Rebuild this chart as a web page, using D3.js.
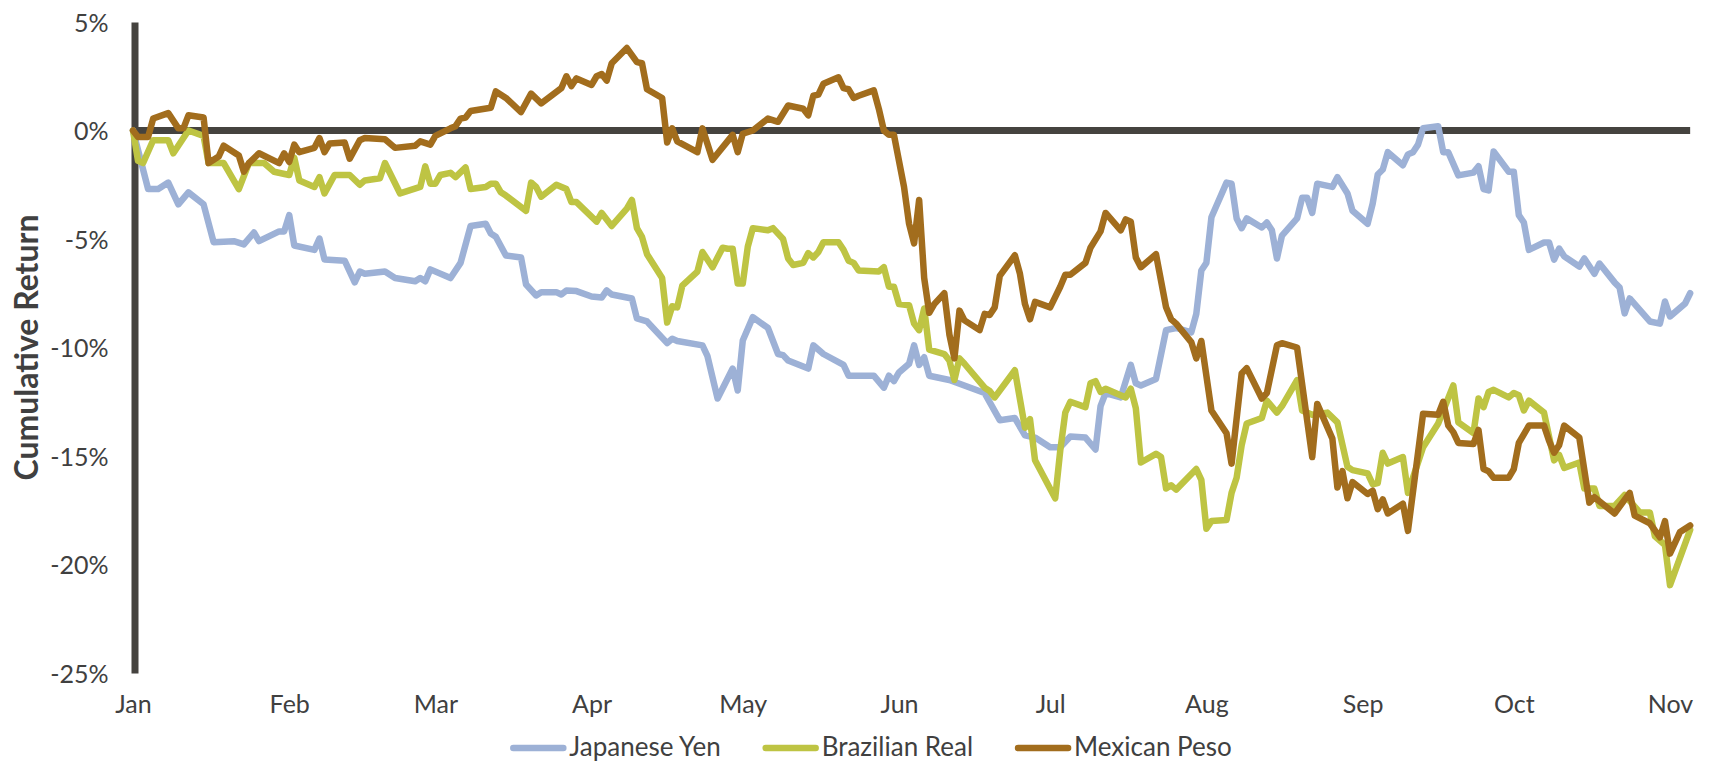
<!DOCTYPE html>
<html>
<head>
<meta charset="utf-8">
<script src="https://cdn.jsdelivr.net/npm/d3@7/dist/d3.min.js"></script>
<style>
  body { margin: 0; background: #fff; }
  text { font-family: Lato, "Noto Sans", sans-serif; fill: #404040; }
</style>
</head>
<body>
<div id="chart"></div>
<script>
// day = days since Jan 1, value = cumulative return in %
var yearStart = new Date(2016, 0, 1);
var yTicks = [5, 0, -5, -10, -15, -20, -25];
var seriesNames = ["Japanese Yen", "Brazilian Real", "Mexican Peso"];

var japaneseYen = [[0,0],[1,-0.9],[3,-2.7],[5,-2.7],[7,-2.4],[9,-3.4],[11,-2.85],[14,-3.4],[16,-5.15],[20,-5.1],
  [22,-5.25],[24,-4.7],[25,-5.1],[29,-4.65],[30,-4.65],[31,-3.9],[32,-5.3],[36,-5.5],[37,-4.98],[38,-5.95],
  [42,-6.0],[44,-7.0],[45,-6.5],[46,-6.6],[50,-6.5],[52,-6.8],[56,-6.95],[57,-6.8],[58,-6.95],[59,-6.4],
  [63,-6.8],[65,-6.1],[67,-4.4],[70,-4.3],[71,-4.75],[72,-4.9],[74,-5.76],[77,-5.85],[78,-7.1],[80,-7.6],
  [81,-7.45],[84,-7.45],[85,-7.56],[86,-7.37],[88,-7.4],[91,-7.65],[93,-7.7],[94,-7.37],[95,-7.56],[99,-7.74],
  [100,-8.66],[102,-8.8],[106,-9.8],[107,-9.6],[108,-9.7],[113,-9.9],[114,-10.4],[116,-12.35],[119,-10.97],[120,-11.98],
  [121,-9.68],[123,-8.6],[126,-9.1],[128,-10.3],[129,-10.35],[130,-10.6],[134,-10.97],[135,-9.9],[137,-10.3],[141,-10.8],
  [142,-11.3],[147,-11.3],[149,-11.85],[150,-11.3],[151,-11.55],[152,-11.15],[154,-10.75],[155,-9.9],[156,-10.8],[157,-10.45],
  [158,-11.3],[162,-11.5],[169,-12.1],[172,-13.35],[175,-13.25],[177,-14.05],[179,-14.15],[182,-14.6],[184,-14.6],[186,-14.1],
  [189,-14.15],[191,-14.7],[192,-12.7],[193,-12.1],[196,-12.3],[198,-10.8],[199,-11.65],[200,-11.75],[203,-11.45],[205,-9.2],
  [207,-9.1],[210,-9.3],[211,-8.45],[212,-6.45],[213,-6.1],[214,-4.0],[217,-2.4],[218,-2.45],[219,-4.05],[220,-4.5],
  [221,-4.05],[224,-4.47],[225,-4.24],[226,-4.6],[227,-5.9],[228,-4.84],[231,-4.05],[232,-3.1],[233,-3.1],[234,-3.8],
  [235,-2.45],[238,-2.6],[239,-2.15],[241,-2.9],[242,-3.7],[245,-4.3],[246,-3.37],[247,-2.03],[248,-1.8],[249,-1.0],
  [252,-1.6],[253,-1.1],[254,-1.0],[255,-0.65],[256,0.1],[259,0.2],[260,-1.0],[261,-1.0],[263,-2.07],[266,-1.94],
  [267,-1.65],[268,-2.7],[269,-2.76],[270,-0.97],[273,-1.9],[274,-1.9],[275,-3.9],[276,-4.24],[277,-5.5],[280,-5.16],
  [281,-5.16],[282,-5.95],[283,-5.44],[284,-5.8],[287,-6.27],[288,-5.9],[290,-6.6],[291,-6.13],[294,-7.0],[295,-7.24],
  [296,-8.43],[297,-7.74],[301,-8.8],[303,-8.9],[304,-7.88],[305,-8.57],[308,-7.97],[309,-7.5]];

var brazilianReal = [[0,0],[1,-1.4],[2,-1.5],[4,-0.45],[7,-0.45],[8,-1.05],[11,0],[14,-0.25],[15,-1.5],[18,-1.5],
  [21,-2.7],[23,-1.5],[26,-1.5],[28,-1.9],[31,-2.05],[32,-1.25],[33,-2.3],[36,-2.6],[37,-2.15],[38,-2.9],
  [40,-2.05],[43,-2.05],[45,-2.5],[46,-2.3],[49,-2.2],[50,-1.5],[53,-2.9],[57,-2.6],[58,-1.65],[59,-2.45],
  [60,-2.45],[61,-2.05],[63,-1.95],[64,-2.15],[66,-1.7],[67,-2.7],[70,-2.6],[71,-2.45],[72,-2.45],[73,-2.85],
  [74,-3.0],[78,-3.7],[79,-2.4],[80,-2.6],[81,-3.05],[84,-2.5],[86,-2.7],[87,-3.3],[88,-3.3],[92,-4.2],
  [93,-3.8],[95,-4.4],[98,-3.6],[99,-3.2],[100,-4.5],[101,-4.9],[102,-5.7],[105,-6.8],[106,-8.85],[107,-8.1],
  [108,-8.15],[109,-7.15],[112,-6.5],[113,-5.6],[115,-6.3],[117,-5.4],[118,-5.45],[119,-5.45],[120,-7.05],[121,-7.05],
  [122,-5.35],[123,-4.5],[126,-4.6],[127,-4.5],[129,-5.0],[130,-5.9],[131,-6.2],[133,-6.1],[134,-5.65],[135,-5.85],
  [136,-5.6],[137,-5.15],[140,-5.15],[141,-5.5],[142,-6.0],[143,-6.1],[144,-6.45],[148,-6.5],[149,-6.3],[150,-7.2],
  [151,-7.2],[152,-8.0],[154,-8.05],[155,-8.9],[156,-9.2],[157,-8.2],[158,-10.1],[161,-10.3],[162,-10.6],[163,-11.5],
  [164,-10.5],[165,-10.75],[169,-11.85],[170,-12.0],[171,-12.3],[175,-11.05],[177,-13.7],[178,-13.3],[179,-15.2],[183,-16.95],
  [184,-14.75],[185,-13.0],[186,-12.5],[189,-12.75],[190,-11.65],[191,-11.55],[192,-12.05],[193,-11.9],[197,-12.3],[198,-11.9],
  [199,-12.8],[200,-15.3],[203,-14.9],[204,-15.05],[205,-16.5],[206,-16.35],[207,-16.55],[211,-15.6],[212,-16.1],[213,-18.35],
  [214,-18.0],[217,-17.95],[218,-16.7],[219,-16.0],[220,-14.5],[221,-13.5],[224,-13.25],[225,-12.45],[227,-13.0],[228,-12.7],
  [231,-11.5],[232,-12.9],[234,-13.1],[237,-13.0],[239,-13.45],[241,-15.5],[242,-15.65],[245,-15.8],[246,-16.3],[247,-16.25],
  [248,-14.85],[249,-15.35],[252,-15.05],[253,-16.7],[256,-14.6],[259,-13.5],[262,-11.75],[263,-13.45],[266,-13.95],[267,-12.35],
  [268,-12.75],[269,-12.05],[270,-11.95],[273,-12.3],[274,-12.1],[275,-12.2],[276,-12.9],[277,-12.45],[280,-13.0],[282,-15.2],
  [283,-14.95],[284,-15.55],[287,-15.3],[288,-16.5],[290,-16.5],[291,-17.3],[294,-17.3],[296,-16.8],[299,-17.6],[301,-17.6],
  [302,-18.7],[304,-19.1],[305,-20.95],[309,-18.4]];

var mexicanPeso = [[0,0],[1,-0.3],[3,-0.3],[4,0.55],[7,0.8],[9,0.1],[10,0.1],[11,0.7],[14,0.6],[15,-1.5],
  [17,-1.2],[18,-0.7],[21,-1.15],[22,-1.9],[23,-1.5],[25,-1.05],[29,-1.5],[30,-1.05],[31,-1.45],[32,-0.65],
  [33,-1.0],[36,-0.8],[37,-0.35],[38,-1.0],[39,-0.6],[42,-0.55],[43,-1.3],[45,-0.45],[46,-0.35],[50,-0.4],
  [52,-0.8],[56,-0.7],[57,-0.5],[59,-0.65],[60,-0.25],[63,0.1],[64,0.2],[65,0.55],[66,0.6],[67,0.9],
  [71,1.05],[72,1.8],[74,1.5],[77,0.85],[79,1.7],[81,1.25],[85,1.95],[86,2.5],[87,2.05],[88,2.4],
  [91,2.1],[92,2.5],[93,2.6],[94,2.3],[95,3.1],[98,3.8],[100,3.15],[101,3.1],[102,1.9],[105,1.5],
  [106,-0.55],[107,0.1],[108,-0.5],[112,-1.0],[113,0.1],[115,-1.35],[119,-0.2],[120,-1.0],[121,-0.15],[123,0],
  [126,0.55],[128,0.4],[130,1.15],[133,1.0],[134,0.7],[135,1.6],[136,1.65],[137,2.15],[140,2.45],[141,1.95],
  [142,1.9],[143,1.5],[144,1.6],[147,1.85],[148,1.0],[149,0.0],[150,-0.2],[151,-0.2],[153,-2.6],[154,-4.3],
  [155,-5.2],[156,-3.2],[157,-6.8],[158,-8.4],[159,-8.0],[161,-7.5],[162,-9.4],[163,-10.5],[164,-8.3],[165,-8.75],
  [168,-9.2],[169,-8.45],[170,-8.5],[171,-8.15],[172,-6.7],[175,-5.75],[176,-6.6],[177,-8.0],[178,-8.7],[179,-7.9],
  [182,-8.15],[184,-7.2],[185,-6.65],[186,-6.65],[189,-6.1],[190,-5.4],[192,-4.65],[193,-3.8],[196,-4.6],[197,-4.1],
  [198,-4.2],[199,-5.85],[200,-6.3],[203,-5.7],[205,-8.15],[206,-8.7],[207,-8.9],[210,-9.75],[211,-10.5],[212,-9.7],
  [214,-12.9],[217,-13.95],[218,-15.35],[220,-11.2],[221,-10.95],[224,-12.35],[225,-12.1],[227,-9.9],[228,-9.8],[231,-10.0],
  [234,-15.05],[235,-12.6],[238,-14.2],[239,-16.45],[240,-15.7],[241,-16.95],[242,-16.2],[245,-16.75],[246,-16.6],[247,-17.45],
  [248,-17.0],[249,-17.65],[252,-17.2],[253,-18.45],[256,-13.05],[259,-13.1],[260,-12.5],[261,-13.6],[262,-13.9],[263,-14.4],
  [266,-14.45],[267,-13.8],[268,-15.6],[269,-15.7],[270,-16.0],[273,-16.0],[274,-15.6],[275,-14.4],[277,-13.6],[280,-13.6],
  [281,-14.3],[282,-14.85],[283,-14.5],[284,-13.6],[287,-14.15],[289,-17.15],[290,-16.9],[294,-17.65],[297,-16.7],[298,-17.75],
  [301,-18.1],[303,-18.75],[304,-18.0],[305,-19.5],[307,-18.5],[309,-18.2]];

var seriesColors = ["#9db1d6", "#bec443", "#a26d1d"];
var axisColor = "#45433f";

var width = 1712, height = 763;

var svg = d3.select("#chart").append("svg")
  .attr("width", width)
  .attr("height", height);

function dayToDate(d) { return d3.timeDay.offset(yearStart, d); }

var x = d3.scaleTime()
  .domain([yearStart, new Date(2016, 10, 1)])
  .range([133, 1670]);
var y = d3.scaleLinear().domain([-25, 5]).range([673, 22]);

// y axis (thick dark line + % labels)
var yAxis = svg.append("g")
  .attr("transform", "translate(134.5,0)")
  .call(d3.axisLeft(y).tickValues(yTicks).tickSize(0).tickSizeOuter(0).tickPadding(26)
    .tickFormat(function(d) { return d + "%"; }));
yAxis.select(".domain").attr("stroke", axisColor).attr("stroke-width", 7);
yAxis.selectAll("text")
  .attr("dy", "0.36em")
  .style("font-size", "25px")
  .attr("fill", "#404040");

// x axis: month labels only
var xAxis = svg.append("g")
  .attr("transform", "translate(0,673)")
  .call(d3.axisBottom(x).ticks(d3.timeMonth.every(1)).tickSize(0).tickPadding(22)
    .tickFormat(d3.timeFormat("%b")));
xAxis.select(".domain").remove();
xAxis.selectAll("text")
  .style("font-size", "25px")
  .attr("fill", "#404040");

// zero line
svg.append("line")
  .attr("x1", x(yearStart))
  .attr("x2", x(dayToDate(309)))
  .attr("y1", y(0))
  .attr("y2", y(0))
  .attr("stroke", axisColor)
  .attr("stroke-width", 7);

// axis title
svg.append("text")
  .attr("transform", "translate(38," + ((22 + 673) / 2) + ") rotate(-90)")
  .attr("text-anchor", "middle")
  .style("font-size", "32px")
  .style("font-weight", "bold")
  .text("Cumulative Return");

var line = d3.line()
  .x(function(d) { return x(dayToDate(d[0])); })
  .y(function(d) { return y(d[1]); });

var allSeries = [japaneseYen, brazilianReal, mexicanPeso];

svg.selectAll(".series")
  .data(allSeries)
  .enter()
  .append("path")
    .attr("class", "series")
    .attr("d", line)
    .attr("fill", "none")
    .attr("stroke", function(d, i) { return seriesColors[i]; })
    .attr("stroke-width", 6.5)
    .attr("stroke-linejoin", "round")
    .attr("stroke-linecap", "round");

// legend, laid out left to right and centred
var legend = svg.append("g");
var xPos = 0;
seriesNames.forEach(function(name, i) {
  var item = legend.append("g").attr("transform", "translate(" + xPos + ",0)");
  item.append("line")
    .attr("x1", 3).attr("x2", 53)
    .attr("y1", 0).attr("y2", 0)
    .attr("stroke", seriesColors[i])
    .attr("stroke-width", 6.5)
    .attr("stroke-linecap", "round");
  var t = item.append("text")
    .attr("x", 59)
    .attr("y", 8)
    .style("font-size", "26px")
    .text(name);
  xPos += 59 + t.node().getComputedTextLength() + 42;
});
var legendWidth = xPos - 42;
legend.attr("transform", "translate(" + (871 - legendWidth / 2) + ",748)");
</script>
</body>
</html>
